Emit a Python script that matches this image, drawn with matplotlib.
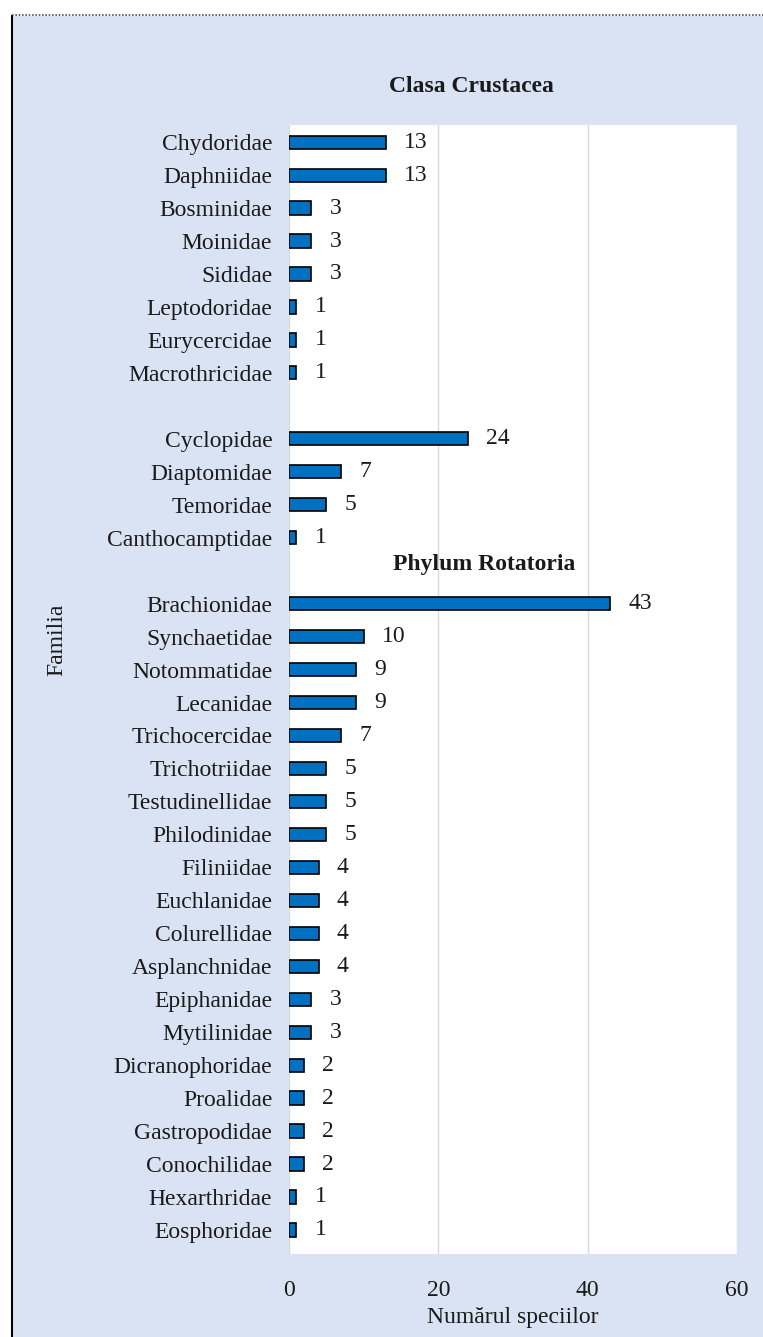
import numpy as np
import matplotlib.pyplot as plt
from matplotlib.patches import Rectangle
from matplotlib.lines import Line2D

plt.rcParams['font.family'] = ['Liberation Serif', 'DejaVu Serif']

# DATE
cladocera = ["Chydoridae", "Daphniidae", "Bosminidae", "Moinidae", "Sididae",
             "Leptodoridae", "Eurycercidae", "Macrothricidae"]
cladocera_val = [13, 13, 3, 3, 3, 1, 1, 1]
copepoda = ["Cyclopidae", "Diaptomidae", "Temoridae", "Canthocamptidae"]
copepoda_val = [24, 7, 5, 1]
rotatoria = ["Brachionidae", "Synchaetidae", "Notommatidae", "Lecanidae",
             "Trichocercidae", "Trichotriidae", "Testudinellidae", "Philodinidae",
             "Filiniidae", "Euchlanidae", "Colurellidae", "Asplanchnidae",
             "Epiphanidae", "Mytilinidae", "Dicranophoridae", "Proalidae",
             "Gastropodidae", "Conochilidae", "Hexarthridae", "Eosphoridae"]
rotatoria_val = [43, 10, 9, 9, 7, 5, 5, 5, 4, 4, 4, 4, 3, 3, 2, 2, 2, 2, 1, 1]

# categorii cu rânduri goale între grupuri
labels = cladocera + [""] + copepoda + [""] + rotatoria
values = cladocera_val + [np.nan] + copepoda_val + [np.nan] + rotatoria_val
pos = np.arange(len(labels))

W, H = 763, 1337
FS = 17
TXT = "#1a1a1a"
fig = plt.figure(figsize=(W / 100, H / 100), dpi=100)
fig.patch.set_facecolor("white")

# fundalul albastru
fig.patches.append(Rectangle((12 / W, 0), 1 - 12 / W, 1 - 16 / H, transform=fig.transFigure,
                             facecolor="#DAE3F3", edgecolor="none", zorder=-10))
fig.lines.append(Line2D([12 / W, 12 / W], [0, 1 - 16 / H], transform=fig.transFigure,
                        color="black", lw=1.5, zorder=-5))
fig.lines.append(Line2D([12 / W, 1], [1 - 15 / H, 1 - 15 / H], transform=fig.transFigure,
                        color="#555555", lw=1.2, ls=(0, (1, 1)), zorder=-5))

ax = fig.add_axes([289 / W, 1 - 1254 / H, (737 - 289) / W, (1254 - 125) / H])
ax.set_zorder(5)
ax.set_facecolor("white")

mask = ~np.isnan(values)
ax.barh(pos[mask], np.array(values)[mask], height=0.4, color="#0070C0",
        edgecolor="black", linewidth=1.2, zorder=3)
for p, v in zip(pos[mask], np.array(values)[mask]):
    ax.annotate(f"{int(v)}", xy=(v, p), xytext=(13, 0), textcoords="offset points",
                va="center", ha="left", fontsize=FS, color=TXT)

ax.set_xlim(0, 60)
ax.set_ylim(33.73, -0.52)
ax.set_xticks([0, 20, 40, 60])
ax.set_yticks(pos)
ax.set_yticklabels(labels, fontsize=FS, color=TXT)
ax.tick_params(axis="x", labelsize=FS, labelcolor=TXT, length=0, pad=19)
ax.tick_params(axis="y", length=0, pad=12)
ax.grid(axis="x", color="#D9D9D9", lw=1, zorder=0)
for s in ax.spines.values():
    s.set_visible(False)

ax.set_xlabel("Numărul speciilor", fontsize=FS, color=TXT)
ax.xaxis.set_label_coords(0.5, -0.047)
ax.set_ylabel("Familia", fontsize=FS, color=TXT)
ax.yaxis.set_label_coords(-0.495, 0.544)

fig.text(471 / W, 1 - 86 / H, "Clasa Crustacea", ha="center", va="center",
         fontsize=FS, fontweight="bold", color=TXT)
ax.text(26.1, 12.8, "Phylum Rotatoria", ha="center", va="center",
        fontsize=FS, fontweight="bold", color=TXT)

fig.savefig("out.png", dpi=100)
